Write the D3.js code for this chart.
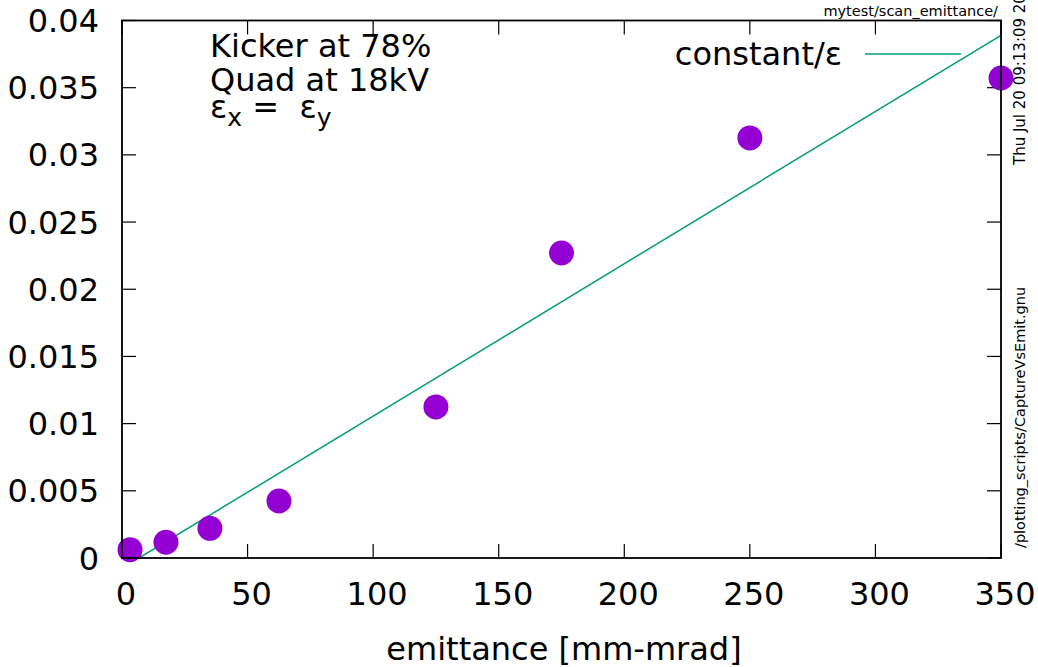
<!DOCTYPE html>
<html>
<head>
<meta charset="utf-8">
<script src="https://cdn.jsdelivr.net/npm/d3@7"></script>
<style>
  body { margin: 0; background: #fff; }
  text { font-family: "DejaVu Sans", sans-serif; fill: #000; }
</style>
</head>
<body>
<div id="chart"></div>
<script>
// measured points
const emittance = [3.2, 17.5, 35, 62.5, 125, 175, 250, 350];
const capture = [0.00062, 0.00117, 0.00221, 0.00424, 0.01124, 0.0227, 0.03126, 0.03572];

// constant/eps curve
const fitX = [6.8, 350];
const fitY = [0, 0.0389];

const xTicks = [0, 50, 100, 150, 200, 250, 300, 350];
const yTicks = [0, 0.005, 0.01, 0.015, 0.02, 0.025, 0.03, 0.035, 0.04];

const width = 1038, height = 667;
const margin = { left: 122, right: 37, top: 20.5, bottom: 109 };

const svg = d3.select("#chart").append("svg")
  .attr("width", width)
  .attr("height", height);

const x = d3.scaleLinear().domain([0, 350]).range([margin.left, width - margin.right]);
const y = d3.scaleLinear().domain([0, 0.04]).range([height - margin.bottom, margin.top]);

const tickLen = 14;
const fs = 32;

// ticks (inward, mirrored)
const tg = svg.append("g").attr("stroke", "#000").attr("stroke-width", 1.2);
xTicks.forEach(v => {
  tg.append("line").attr("x1", x(v)).attr("x2", x(v)).attr("y1", y(0)).attr("y2", y(0) - tickLen);
  tg.append("line").attr("x1", x(v)).attr("x2", x(v)).attr("y1", y(0.04)).attr("y2", y(0.04) + tickLen);
});
yTicks.forEach(v => {
  tg.append("line").attr("x1", x(0)).attr("x2", x(0) + tickLen).attr("y1", y(v)).attr("y2", y(v));
  tg.append("line").attr("x1", x(350)).attr("x2", x(350) - tickLen).attr("y1", y(v)).attr("y2", y(v));
});

// tick labels
svg.append("g").selectAll("text").data(xTicks).join("text")
  .attr("x", d => x(d) + 4)
  .attr("y", 605)
  .attr("text-anchor", "middle")
  .style("font-size", fs + "px")
  .text(d => d);

svg.append("g").selectAll("text").data(yTicks).join("text")
  .attr("x", 99)
  .attr("y", d => y(d) + 11.5)
  .attr("text-anchor", "end")
  .style("font-size", fs + "px")
  .text(d => d === 0 ? "0" : String(+d.toFixed(3)));

// axis title
svg.append("text")
  .attr("x", 564).attr("y", 660)
  .attr("text-anchor", "middle")
  .style("font-size", fs + "px")
  .text("emittance [mm-mrad]");

// clip for plot area
svg.append("clipPath").attr("id", "plotclip").append("rect")
  .attr("x", x(0)).attr("y", y(0.04))
  .attr("width", x(350) - x(0)).attr("height", y(0) - y(0.04));

// fit line
const line = d3.line().x(d => x(d[0])).y(d => y(d[1]));
svg.append("path")
  .datum(d3.zip(fitX, fitY))
  .attr("d", line)
  .attr("fill", "none")
  .attr("stroke", "#009e73")
  .attr("stroke-width", 1.5)
  .attr("clip-path", "url(#plotclip)");

// data points
svg.append("g").selectAll("circle").data(d3.zip(emittance, capture)).join("circle")
  .attr("cx", d => x(d[0]))
  .attr("cy", d => y(d[1]))
  .attr("r", 12.5)
  .attr("fill", "#9400d3");

// border
svg.append("rect")
  .attr("x", x(0)).attr("y", y(0.04))
  .attr("width", x(350) - x(0)).attr("height", y(0) - y(0.04))
  .attr("fill", "none").attr("stroke", "#000").attr("stroke-width", 1.8);

// legend
svg.append("text")
  .attr("x", 842).attr("y", 65)
  .attr("text-anchor", "end")
  .style("font-size", fs + "px")
  .text("constant/ε");
svg.append("line")
  .attr("x1", 865).attr("x2", 961).attr("y1", 54).attr("y2", 54)
  .attr("stroke", "#009e73").attr("stroke-width", 1.5);

// annotations
const labels = svg.append("g").style("font-size", fs + "px");
labels.append("text").attr("x", 210).attr("y", 57).text("Kicker at 78%");
labels.append("text").attr("x", 210).attr("y", 91).text("Quad at 18kV");
const eps = labels.append("text").attr("x", 210).attr("y", 118);
eps.append("tspan").text("ε");
eps.append("tspan").attr("dy", 8).style("font-size", "25px").text("x");
eps.append("tspan").attr("dy", -8).text(" =\u00a0 ε");
eps.append("tspan").attr("dy", 8).style("font-size", "25px").text("y");

// file/date stamps
svg.append("text")
  .attr("x", 998).attr("y", 16)
  .attr("text-anchor", "end")
  .style("font-size", "14.5px")
  .text("mytest/scan_emittance/");

svg.append("text")
  .attr("transform", "translate(1025,165) rotate(-90)")
  .style("font-size", "15px")
  .text("Thu Jul 20 09:13:09 2023");

svg.append("text")
  .attr("transform", "translate(1025,548) rotate(-90)")
  .style("font-size", "14.5px")
  .text("/plotting_scripts/CaptureVsEmit.gnu");
</script>
</body>
</html>
